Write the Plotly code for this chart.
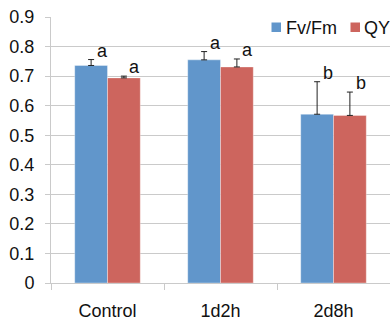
import plotly.graph_objects as go

categories = ["Control", "1d2h", "2d8h"]
fvfm = [0.736, 0.755, 0.571]
fvfm_err = [0.020, 0.028, 0.110]
qy = [0.694, 0.731, 0.567]
qy_err = [0.006, 0.027, 0.079]
fvfm_letters = ["a", "a", "b"]
qy_letters = ["a", "a", "b"]
series_names = ["Fv/Fm", "QY"]
y_ticks = [0, 0.1, 0.2, 0.3, 0.4, 0.5, 0.6, 0.7, 0.8, 0.9]

BLUE = "#6196CB"
RED = "#CD655E"
GRID = "#CACACA"
FONT = "Liberation Sans, Arial, sans-serif"
FS = 18

W, H = 390, 324
ML, MR, MT, MB = 51, 0, 17, 41

fig = go.Figure()
fig.add_trace(go.Bar(
    x=categories, y=fvfm, name=series_names[0],
    marker=dict(color=BLUE, line=dict(color="rgba(255,255,255,0.35)", width=1)),
    error_y=dict(type="data", array=fvfm_err, arrayminus=[0] * 3, symmetric=False,
                 color="#222222", thickness=1, width=3),
))
fig.add_trace(go.Bar(
    x=categories, y=qy, name=series_names[1],
    marker=dict(color=RED, line=dict(color="rgba(255,255,255,0.35)", width=1)),
    error_y=dict(type="data", array=qy_err, arrayminus=[0] * 3, symmetric=False,
                 color="#222222", thickness=1, width=3),
))

bargap = 0.42
plot_w = W - ML - MR
cat_px = plot_w / len(categories)
half_bar_px = (1 - bargap) / 4 * cat_px

for i, c in enumerate(categories):
    fig.add_annotation(x=c, y=fvfm[i] + fvfm_err[i], text=fvfm_letters[i],
                       xref="x", yref="y", showarrow=False,
                       xshift=-half_bar_px + 11, yshift=9,
                       font=dict(family=FONT, size=FS, color="#111111"))
    fig.add_annotation(x=c, y=qy[i] + qy_err[i], text=qy_letters[i],
                       xref="x", yref="y", showarrow=False,
                       xshift=half_bar_px + 11, yshift=9,
                       font=dict(family=FONT, size=FS, color="#111111"))

# manual legend (pixel positions converted to paper coords)
def px(xp):
    return (xp - ML) / plot_w

def py(yp):
    return 1 - (yp - MT) / (H - MT - MB)

legend_items = [(271.5, 284, BLUE, series_names[0]), (350.5, 362, RED, series_names[1])]
for sx, tx, col, name in legend_items:
    fig.add_shape(type="rect", xref="paper", yref="paper",
                  x0=px(sx), x1=px(sx + 9.5), y0=py(32), y1=py(22.5),
                  fillcolor=col, line=dict(width=0))
    fig.add_annotation(x=px(tx), y=py(27.5), xref="paper", yref="paper",
                       text=name, showarrow=False, xanchor="left", yanchor="middle",
                       font=dict(family=FONT, size=FS, color="#111111"))

fig.update_layout(
    width=W, height=H,
    margin=dict(l=ML, r=MR, t=MT, b=MB),
    paper_bgcolor="white", plot_bgcolor="white",
    barmode="group", bargap=bargap, bargroupgap=0,
    showlegend=False,
    font=dict(family=FONT, size=FS, color="#111111"),
)
fig.update_yaxes(
    range=[0, 0.9], tickvals=y_ticks, ticktext=[("%g" % v) for v in y_ticks],
    showgrid=True, gridcolor=GRID, gridwidth=1,
    showline=True, linecolor=GRID, linewidth=1,
    ticks="outside", ticklen=5, tickcolor=GRID,
    ticklabelstandoff=7, zeroline=False,
)
fig.update_xaxes(
    showline=True, linecolor=GRID, linewidth=1,
    ticks="outside", ticklen=6, tickcolor=GRID, tickson="boundaries",
    ticklabelstandoff=11, showgrid=False,
)

fig.write_html("out.html")
